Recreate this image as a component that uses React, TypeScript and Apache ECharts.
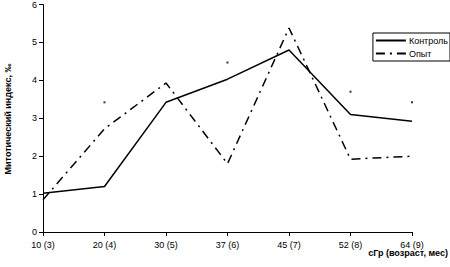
import React, { useEffect, useRef } from "react";
import * as echarts from "echarts";

const categories = ["10 (3)", "20 (4)", "30 (5)", "37 (6)", "45 (7)", "52 (8)", "64 (9)"];
const controlValues = [1.02, 1.2, 3.42, 4.03, 4.8, 3.1, 2.92];
const experimentValues = [0.85, 2.72, 3.93, 1.8, 5.38, 1.92, 2.0];
const strayDots: [number, number][] = [
  [1, 3.42],
  [3, 4.47],
  [5, 3.7],
  [6, 3.42],
];
const yTicks = [0, 1, 2, 3, 4, 5, 6];

export default function App() {
  const ref = useRef<HTMLDivElement>(null);
  useEffect(() => {
    if (!ref.current) return;
    const chart = echarts.init(ref.current, undefined, { renderer: "svg" });
    const font = "'Liberation Sans', Arial, sans-serif";
    chart.setOption({
      animation: false,
      backgroundColor: "#fff",
      textStyle: { fontFamily: font },
      grid: { left: 43, right: 38, top: 4, bottom: 35 },
      legend: {
        data: ["Контроль", "Опыт"],
        orient: "vertical",
        right: 0,
        top: 33,
        itemWidth: 30,
        itemHeight: 8,
        itemGap: 4,
        padding: [3, 2, 3, 2],
        borderColor: "#000",
        borderWidth: 1,
        borderRadius: 0,
        itemStyle: { opacity: 0 },
        textStyle: { fontFamily: font, fontSize: 9, color: "#000", padding: [0, 0, 0, -2] },
      },
      xAxis: {
        type: "category",
        data: categories,
        boundaryGap: false,
        axisLine: { lineStyle: { color: "#000", width: 1 } },
        axisTick: { alignWithLabel: true, length: 4, lineStyle: { color: "#000" } },
        axisLabel: { color: "#000", fontSize: 9, margin: 8, fontFamily: font },
        splitLine: { show: false },
      },
      yAxis: {
        type: "value",
        min: yTicks[0],
        max: yTicks[yTicks.length - 1],
        interval: 1,
        axisLine: { show: true, lineStyle: { color: "#000", width: 1 } },
        axisTick: { show: true, length: 4, lineStyle: { color: "#000" } },
        axisLabel: { color: "#000", fontSize: 9, margin: 6, fontFamily: font },
        splitLine: { show: false },
      },
      series: [
        {
          name: "Контроль",
          type: "line",
          data: controlValues,
          symbol: "none",
          lineStyle: { color: "#000", width: 1.5 },
          itemStyle: { color: "#000" },
        },
        {
          name: "Опыт",
          type: "line",
          data: experimentValues,
          symbol: "none",
          lineStyle: { color: "#000", width: 1.5, type: [9, 5, 2, 5] },
          itemStyle: { color: "#000" },
        },
        {
          name: "dots",
          type: "scatter",
          data: strayDots,
          symbol: "rect",
          symbolSize: 2,
          itemStyle: { color: "#000" },
          silent: true,
        },
      ],
      graphic: [
        {
          type: "text",
          x: 8,
          y: 119,
          rotation: Math.PI / 2,
          style: {
            text: "Митотический индекс, ‰",
            fontFamily: font,
            fontSize: 9,
            fontWeight: "bold",
            fill: "#000",
            align: "center",
            verticalAlign: "middle",
          },
        },
        {
          type: "text",
          x: 448,
          y: 253,
          style: {
            text: "сГр (возраст, мес)",
            fontFamily: font,
            fontSize: 9,
            fontWeight: "bold",
            fill: "#000",
            align: "right",
            verticalAlign: "middle",
          },
        },
      ],
    });
    return () => chart.dispose();
  }, []);
  return <div ref={ref} style={{ width: 450, height: 267, position: "absolute", left: 0, top: 0 }} />;
}
